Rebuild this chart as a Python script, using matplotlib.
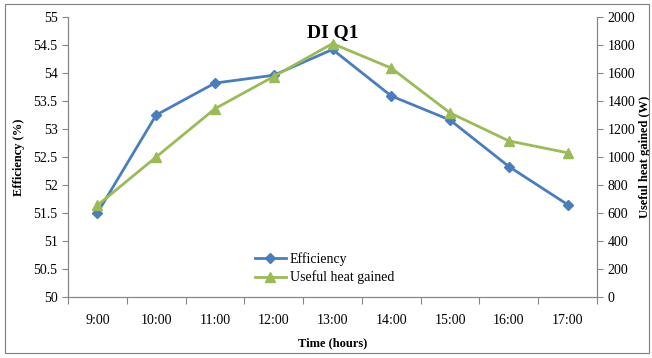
import matplotlib.pyplot as plt
from matplotlib.patches import Rectangle
import numpy as np

plt.rcParams["font.family"] = ["Liberation Serif", "DejaVu Serif"]

hours = ["9:00", "10:00", "11:00", "12:00", "13:00", "14:00", "15:00", "16:00", "17:00"]
efficiency = [51.5, 53.25, 53.82, 53.96, 54.42, 53.59, 53.16, 52.33, 51.65]
heat_gained = [655, 1000, 1345, 1575, 1810, 1635, 1315, 1115, 1030]

blue = "#4a7ebb"
green = "#9bbb59"
axis_grey = "#868686"

fig = plt.figure(figsize=(6.52, 3.58), dpi=100)
fig.patches.append(Rectangle((0.008, 0.015), 0.988, 0.975, transform=fig.transFigure,
                             fill=False, edgecolor="#7f7f7f", linewidth=0.8))
ax = fig.add_axes([68 / 652, 1 - 297 / 358, (597 - 68) / 652, (297 - 17) / 358])
ax2 = ax.twinx()

x = np.arange(len(hours))
l1, = ax.plot(x, efficiency, color=blue, marker="D", markersize=5, linewidth=2, label="Efficiency")
l2, = ax2.plot(x, heat_gained, color=green, marker="^", markersize=7, linewidth=2,
               label="Useful heat gained")

ax.set_xlim(-0.5, len(hours) - 0.5)
ax.set_ylim(50, 55)
ax.set_yticks(np.arange(50, 55.01, 0.5))
ax.set_yticklabels([f"{v:g}" for v in np.arange(50, 55.01, 0.5)])
ax2.set_ylim(0, 2000)
ax2.set_yticks(np.arange(0, 2001, 200))

ax.set_xticks(np.arange(-0.5, len(hours), 1.0))
ax.set_xticklabels([])
ax.set_xticks(x, minor=True)
ax.set_xticklabels(hours, minor=True)
ax.tick_params(axis="x", which="major", length=5, color=axis_grey, direction="out")
ax.tick_params(axis="x", which="minor", length=0, pad=12, labelsize=10)
ax.tick_params(axis="y", length=4, color=axis_grey, labelsize=10)
ax2.tick_params(axis="y", length=4, color=axis_grey, labelsize=10)

for a in (ax, ax2):
    a.spines["top"].set_visible(False)
    for s in ("left", "right", "bottom"):
        a.spines[s].set_color(axis_grey)
        a.spines[s].set_linewidth(0.8)

ax.set_ylabel("Efficiency (%)", fontweight="bold", fontsize=9, labelpad=6)
ax2.set_ylabel("Useful heat gained (W)", fontweight="bold", fontsize=9, rotation=90)
ax2.yaxis.label.set_va("center")
ax2.yaxis.set_label_coords(1.09, 0.5)
ax.set_xlabel("Time (hours)", fontweight="bold", fontsize=9, labelpad=8)
ax.text(0.5, 0.945, "DI Q1", transform=ax.transAxes, ha="center", va="center",
        fontsize=14, fontweight="bold")

ax.legend(handles=[l1, l2], loc="lower center", bbox_to_anchor=(0.485, 0.0), frameon=False,
          fontsize=10, handlelength=2.2, handletextpad=0.3, labelspacing=0.35)

fig.savefig("out.png", dpi=100)
